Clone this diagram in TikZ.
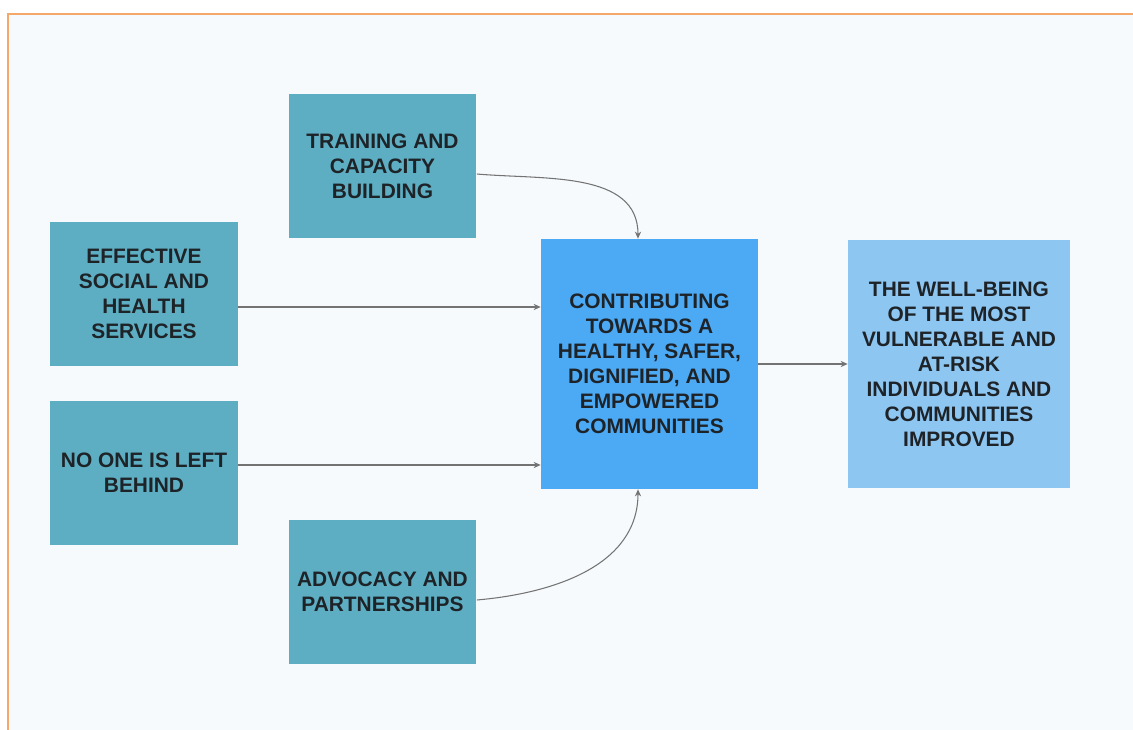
\documentclass[tikz,border=0pt]{standalone}
\usepackage{fontspec}
\setmainfont{Liberation Sans}
\usetikzlibrary{positioning, arrows.meta}
\usetikzlibrary{calc}

\definecolor{tealbox}{HTML}{5DAEC3}
\definecolor{centrebox}{HTML}{4CA9F4}
\definecolor{goalbox}{HTML}{8EC6F2}
\definecolor{paper}{HTML}{F6FAFD}
\definecolor{frame}{HTML}{F4A86A}
\definecolor{ink}{HTML}{1E2328}

\begin{document}
\begin{tikzpicture}[
          x=0.02cm, y=-0.02cm,
          box/.style={rectangle, fill=tealbox, minimum width=3.76cm, minimum height=2.88cm, align=center, text=ink, font=\fontsize{11.9}{14.2}\selectfont\bfseries},
          arrow/.style={-{Stealth[length=4pt, width=3.5pt]}, draw=black!55, line width=0.6pt}
        ]
          % Page and frame
          \useasboundingbox (0,0) rectangle (1133,730);
          \fill[paper] (8,14) rectangle (1140,740);
          \draw[frame, line width=1.4pt] (1140,14) -- (8,14) -- (8,740);

          % Inputs
          \node[box] (training) at (382.5,166) {TRAINING AND\\CAPACITY\\BUILDING};
          \node[box] (effective) at (144,294) {EFFECTIVE\\SOCIAL AND\\HEALTH\\SERVICES};
          \node[box] (noone) at (144,473) {NO ONE IS LEFT\\BEHIND};
          \node[box] (advocacy) at (382.5,592) {ADVOCACY AND\\PARTNERSHIPS};

          % Outcome
          \node[box, fill=centrebox, minimum width=4.34cm, minimum height=5cm] (contrib) at (649.5,364) {CONTRIBUTING\\TOWARDS A\\HEALTHY, SAFER,\\DIGNIFIED, AND\\EMPOWERED\\COMMUNITIES};

          % Goal
          \node[box, fill=goalbox, minimum width=4.44cm, minimum height=4.96cm] (goal) at (959,364) {THE WELL-BEING\\OF THE MOST\\VULNERABLE AND\\AT-RISK\\INDIVIDUALS AND\\COMMUNITIES\\IMPROVED};

          % Arrows
          \draw[arrow] ([yshift=-0.16cm]training.east) to[out=-5, in=90] ([xshift=-0.23cm]contrib.north);
          \draw[arrow] ([yshift=-0.26cm]effective.east) -- ([yshift=-0.26cm]effective.east -| contrib.west);
          \draw[arrow] ([yshift=0.16cm]noone.east) -- ([yshift=0.16cm]noone.east -| contrib.west);
          \draw[arrow] ([yshift=-0.16cm]advocacy.east) to[out=5, in=-90] ([xshift=-0.23cm]contrib.south);
          \draw[arrow] (contrib) -- (goal);
      \end{tikzpicture}
\end{document}
